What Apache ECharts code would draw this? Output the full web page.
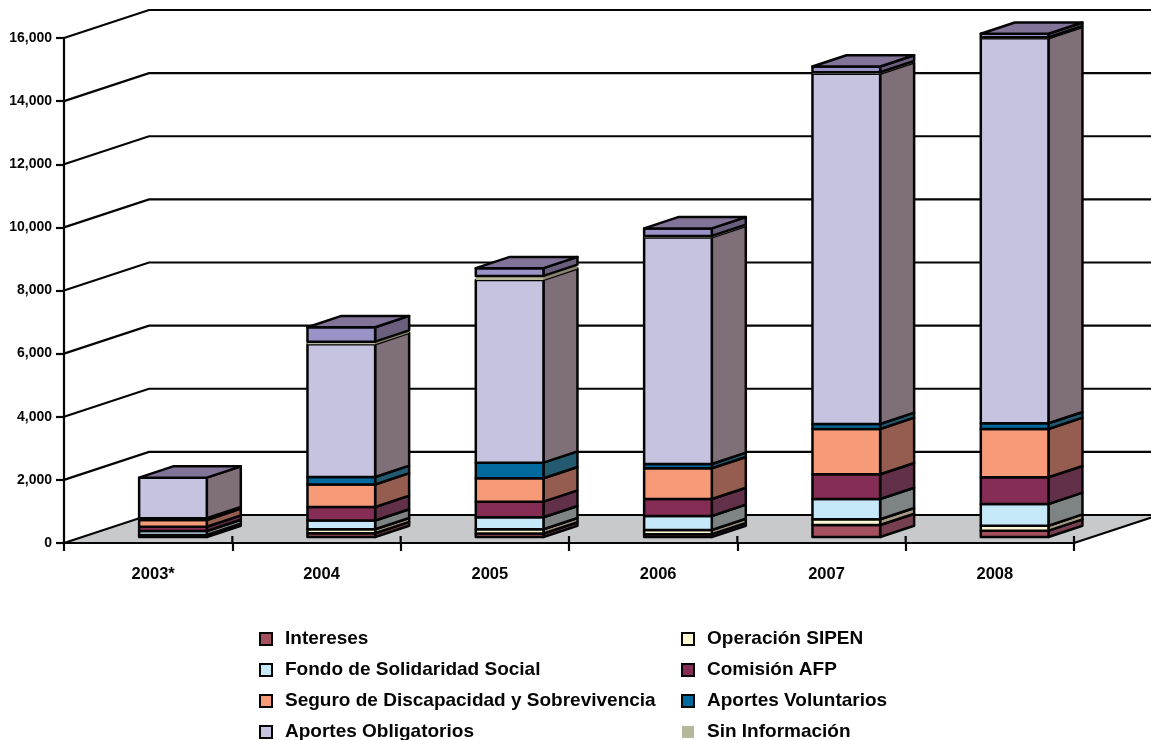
<!DOCTYPE html>
<html>
<head>
<meta charset="utf-8">
<style>
  html, body { margin: 0; padding: 0; background: #fff; overflow: hidden; }
  #chart { width: 1151px; height: 740px; }
</style>
<script src="https://cdn.jsdelivr.net/npm/echarts@6/dist/echarts.min.js"></script>
</head>
<body>
<div id="chart"></div>
<script>
// ========== 数据 ==========
const years = ['2003*', '2004', '2005', '2006', '2007', '2008']
const yTicks = [0, 2000, 4000, 6000, 8000, 10000, 12000, 14000, 16000]

const intereses = [30, 120, 110, 90, 380, 200]
const operacionSipen = [33, 124, 134, 132, 181, 158]
const fondoSolidaridad = [127, 279, 380, 444, 643, 688]
const comisionAfp = [136, 428, 495, 538, 783, 846]
const seguroDiscapacidad = [213, 713, 741, 973, 1436, 1531]
const aportesVoluntarios = [54, 238, 495, 137, 159, 181]
const aportesObligatorios = [1287, 4206, 5791, 7179, 11093, 12196]
const sinInformacion = [0, 82, 127, 47, 48, 32]
// 顶部这一层的图例在原图里被裁掉了，没有名字可读
const sinLeyenda = [0, 457, 244, 238, 183, 111]

// 从下到上的堆叠顺序：front / side / top 三个面的颜色
const layers = [
  { name: 'Intereses', values: intereses, front: '#a5505f', side: '#774050' },
  { name: 'Operación SIPEN', values: operacionSipen, front: '#fdf8d2', side: '#a79a85' },
  { name: 'Fondo de Solidaridad Social', values: fondoSolidaridad, front: '#c6e9fa', side: '#7e8484' },
  { name: 'Comisión AFP', values: comisionAfp, front: '#852d55', side: '#623048' },
  { name: 'Seguro de Discapacidad y Sobrevivencia', values: seguroDiscapacidad, front: '#f69a78', side: '#955c50' },
  { name: 'Aportes Voluntarios', values: aportesVoluntarios, front: '#006a9e', side: '#245a70' },
  { name: 'Aportes Obligatorios', values: aportesObligatorios, front: '#c6c3e0', side: '#7f6f78' },
  { name: 'Sin Información', values: sinInformacion, front: '#b9b79a', side: '#8a8470', noBorder: true },
  { name: 'Otros', values: sinLeyenda, front: '#9a93c8', side: '#6a5f7d', top: '#827398' }
]

const FONT = '"Liberation Sans", Arial, sans-serif'
const INK = '#050505'
const WALL_DX = 85
const WALL_DY = -28
const BAR_DX = 34
const BAR_DY = -11.3
const BAR_SHIFT_X = 24.8
const BAR_SHIFT_Y = -6
const BAR_RATIO = 0.402

// 画一层柱子的正面、侧面（最上层再加顶面）
function renderLayer(layer) {
  return function (params, api) {
    const band = api.size([1, 0])[0]
    const halfW = band * BAR_RATIO / 2
    const low = api.coord([api.value(0), api.value(1)])
    const high = api.coord([api.value(0), api.value(2)])
    const x0 = low[0] + BAR_SHIFT_X - halfW
    const x1 = low[0] + BAR_SHIFT_X + halfW
    const y0 = low[1] + BAR_SHIFT_Y
    const y1 = high[1] + BAR_SHIFT_Y
    const stroke = layer.noBorder
      ? { stroke: null, lineWidth: 0 }
      : { stroke: INK, lineWidth: 2.5, lineJoin: 'round' }
    const children = []
    if (api.value(2) > api.value(1)) {
      children.push({
        type: 'polygon',
        shape: { points: [[x1, y0], [x1 + BAR_DX, y0 + BAR_DY], [x1 + BAR_DX, y1 + BAR_DY], [x1, y1]] },
        style: Object.assign({ fill: layer.side }, stroke)
      })
      children.push({
        type: 'polygon',
        shape: { points: [[x0, y0], [x1, y0], [x1, y1], [x0, y1]] },
        style: Object.assign({ fill: layer.front }, stroke)
      })
    }
    // 顶面：就算最上层是 0（2003*）也要盖上
    if (layer.top) {
      children.push({
        type: 'polygon',
        shape: { points: [[x0, y1], [x1, y1], [x1 + BAR_DX, y1 + BAR_DY], [x0 + BAR_DX, y1 + BAR_DY]] },
        style: Object.assign({ fill: layer.top }, stroke)
      })
    }
    return { type: 'group', children: children }
  }
}

// 累加成 [类目, 起, 止]
const running = years.map(() => 0)
const barSeries = layers.map(function (layer) {
  const data = layer.values.map(function (v, i) {
    const row = [i, running[i], running[i] + v]
    running[i] += v
    return row
  })
  return {
    type: 'custom',
    name: layer.name,
    coordinateSystem: 'cartesian2d',
    silent: true,
    z: 3,
    encode: { x: 0, y: [1, 2] },
    itemStyle: { color: layer.front },
    renderItem: renderLayer(layer),
    data: data
  }
})

// 灰色地面
const floorSeries = {
  type: 'custom',
  coordinateSystem: 'cartesian2d',
  silent: true,
  z: 1,
  encode: { x: 0, y: 1 },
  data: [[0, 0]],
  renderItem: function (params, api) {
    const rect = params.coordSys
    const y = api.coord([0, 0])[1]
    const xl = rect.x
    const xr = rect.x + rect.width
    return {
      type: 'group',
      children: [
        {
          type: 'polygon',
          shape: { points: [[xl, y], [xl + WALL_DX, y + WALL_DY], [xr + WALL_DX, y + WALL_DY], [xr, y]] },
          style: { fill: '#c8c9cb', stroke: null }
        },
        {
          type: 'line',
          shape: { x1: xr, y1: y, x2: xr + WALL_DX, y2: y + WALL_DY },
          style: { stroke: INK, lineWidth: 2.2 }
        }
      ]
    }
  }
}

// 后墙网格线：先斜着走到后墙，再横向到右边
const wallSeries = {
  type: 'custom',
  coordinateSystem: 'cartesian2d',
  silent: true,
  z: 2,
  encode: { x: 0, y: 1 },
  data: yTicks.map(v => [0, v]),
  renderItem: function (params, api) {
    const rect = params.coordSys
    const y = api.coord([0, api.value(1)])[1]
    return {
      type: 'polyline',
      shape: {
        points: [
          [rect.x, y],
          [rect.x + WALL_DX, y + WALL_DY],
          [rect.x + rect.width + WALL_DX, y + WALL_DY]
        ]
      },
      style: { stroke: INK, lineWidth: 2.2, fill: null }
    }
  }
}

// 类目刻度在基线以上还露出一小段
const tickSeries = {
  type: 'custom',
  coordinateSystem: 'cartesian2d',
  silent: true,
  z: 2,
  encode: { x: 0, y: 1 },
  data: years.map((y, i) => [i, 0]),
  renderItem: function (params, api) {
    const p = api.coord([api.value(0), 0])
    const x = p[0] + api.size([1, 0])[0] / 2
    return {
      type: 'line',
      shape: { x1: x, y1: p[1] - 7, x2: x, y2: p[1] },
      style: { stroke: INK, lineWidth: 2.2 }
    }
  }
}

function legendItem(name) {
  const layer = layers.find(l => l.name === name)
  return {
    name: name,
    itemStyle: {
      color: layer.front,
      borderColor: layer.noBorder ? layer.front : INK,
      borderWidth: layer.noBorder ? 0 : 2
    }
  }
}

function legendColumn(left, names) {
  return {
    left: left,
    top: 629,
    height: 130,
    padding: 0,
    orient: 'vertical',
    icon: 'rect',
    itemWidth: 12,
    itemHeight: 12,
    itemGap: 11,
    selectedMode: false,
    textStyle: { fontFamily: FONT, fontWeight: 'bold', fontSize: 19, color: INK, lineHeight: 20, padding: [0, 0, 0, 8] },
    data: names.map(legendItem)
  }
}

const chart = echarts.init(document.getElementById('chart'), null, { renderer: 'canvas' })
chart.setOption({
  animation: false,
  backgroundColor: '#fff',
  grid: { left: 64, right: 77, top: 38, bottom: 197, containLabel: false },
  legend: [
    legendColumn(259, ['Intereses', 'Fondo de Solidaridad Social', 'Seguro de Discapacidad y Sobrevivencia', 'Aportes Obligatorios']),
    legendColumn(681, ['Operación SIPEN', 'Comisión AFP', 'Aportes Voluntarios', 'Sin Información'])
  ],
  xAxis: {
    type: 'category',
    data: years,
    z: 5,
    axisLine: { show: true, lineStyle: { color: INK, width: 2.2 } },
    axisTick: { show: true, length: 8, lineStyle: { color: INK, width: 2.2 } },
    axisLabel: { fontFamily: FONT, fontWeight: 'bold', fontSize: 16.5, color: INK, margin: 23, padding: [0, 0, 0, 10] },
    splitLine: { show: false }
  },
  yAxis: {
    type: 'value',
    min: 0,
    max: 16000,
    interval: 2000,
    z: 5,
    axisLine: { show: true, lineStyle: { color: INK, width: 2.2 } },
    axisTick: { show: true, length: 8, lineStyle: { color: INK, width: 2.2 } },
    axisLabel: {
      fontFamily: FONT,
      fontWeight: 'bold',
      fontSize: 14,
      color: INK,
      margin: 12,
      padding: [2, 0, 0, 0],
      formatter: v => v.toLocaleString('en-US')
    },
    splitLine: { show: false }
  },
  series: [floorSeries, wallSeries, tickSeries].concat(barSeries)
})
</script>
</body>
</html>
